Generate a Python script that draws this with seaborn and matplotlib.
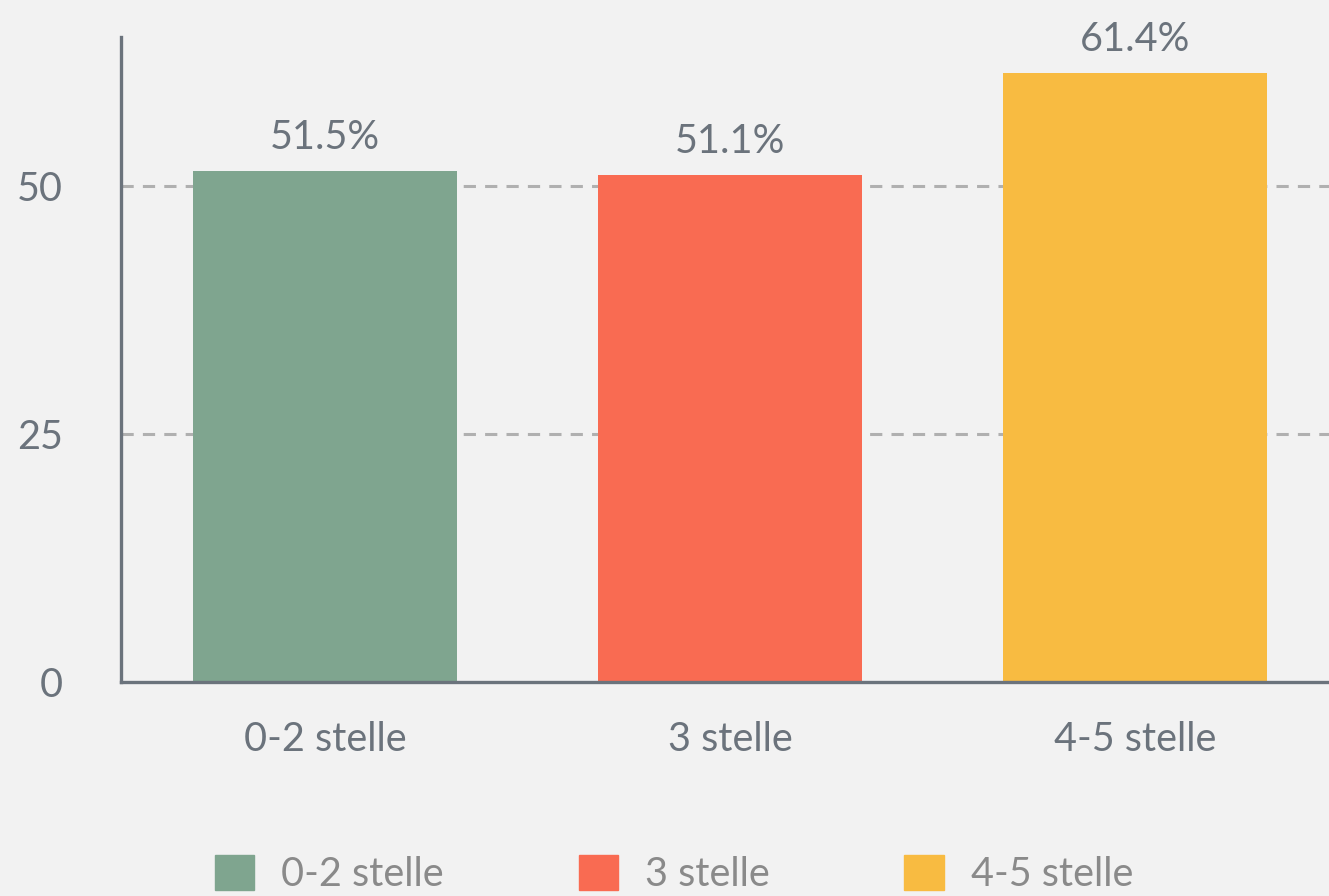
import matplotlib
matplotlib.use("Agg")
import matplotlib.pyplot as plt
import matplotlib.patches as mpatches
import seaborn as sns
import pandas as pd

categories = ["0-2 stelle", "3 stelle", "4-5 stelle"]
values = [51.5, 51.1, 61.4]
bar_labels = ["51.5%", "51.1%", "61.4%"]
colors = ["#7fa58f", "#f96b52", "#f8bb41"]
y_ticks = [0, 25, 50]

BG = "#f2f2f2"
AXIS = "#6b737c"
TEXT = "#6b737c"
LEGEND_TEXT = "#8a8a8a"
FS = 28.5

sns.set_theme(style="white")
plt.rcParams["font.family"] = ["Lato", "DejaVu Sans"]

df = pd.DataFrame({"cat": categories, "val": values})

fig = plt.figure(figsize=(13.29, 8.96), dpi=100, facecolor=BG)
ax = fig.add_axes([121 / 1329, 1 - 682 / 896, 1 - 121 / 1329, (682 - 37) / 896])
ax.set_facecolor(BG)

# dashed gridlines behind bars
for y in y_ticks[1:]:
    ax.axhline(y, color="#b0b0b0", linestyle=(0, (4, 3)), linewidth=2.2, zorder=0)

sns.barplot(data=df, x="cat", y="val", hue="cat", palette=colors,
            width=0.65, legend=False, ax=ax, zorder=2, saturation=1,
            linewidth=0, edgecolor="none")

for i, (v, lab) in enumerate(zip(values, bar_labels)):
    ax.text(i, v + 2.2, lab, ha="center", va="baseline", fontsize=FS, color=TEXT)

ax.set_xlim(-0.504, 2.479)
ax.set_ylim(0, 65)
ax.set_yticks(y_ticks)
ax.set_xlabel("")
ax.set_ylabel("")
ax.tick_params(axis="y", length=0, pad=42, labelsize=FS, labelcolor=TEXT)
ax.tick_params(axis="x", length=0, pad=28, labelsize=FS, labelcolor=TEXT)

for side in ["top", "right"]:
    ax.spines[side].set_visible(False)
for side in ["left", "bottom"]:
    ax.spines[side].set_color(AXIS)
    ax.spines[side].set_linewidth(2.4)
    ax.spines[side].set_zorder(3)

handles = [mpatches.Patch(color=c, label=l) for c, l in zip(colors, categories)]
leg = fig.legend(handles=handles, loc="center", bbox_to_anchor=(674 / 1329, 1 - 874 / 896),
                 ncol=3, frameon=False, fontsize=FS, handlelength=1.0, handleheight=1.0,
                 handletextpad=0.68, columnspacing=3.4)
for t in leg.get_texts():
    t.set_color(LEGEND_TEXT)

fig.savefig("out.png", dpi=100, facecolor=BG)
